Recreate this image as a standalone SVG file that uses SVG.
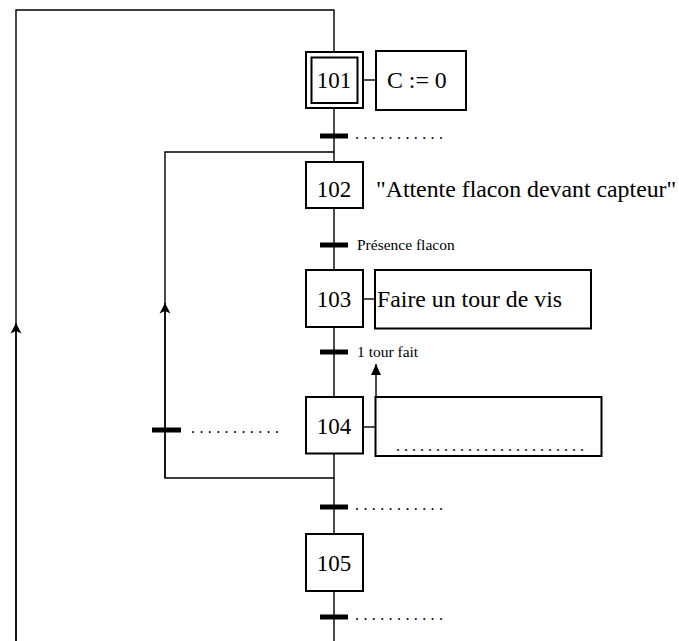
<svg xmlns="http://www.w3.org/2000/svg" width="679" height="641" viewBox="0 0 679 641">
<style>
.ln{fill:none;stroke:#000;stroke-width:1.4}
.bx{fill:#fff;stroke:#000;stroke-width:2}
.bar{stroke:#000;stroke-width:5}
.t{font-family:"Liberation Serif","Times New Roman",serif;fill:#000}
.num{font-size:23px;text-anchor:middle}
.act{font-size:23.8px}
.cond{font-size:15.5px}
.dots{font-size:16px}
</style>
<defs>
<marker id="ah" markerWidth="12" markerHeight="12" refX="11" refY="6" orient="auto" markerUnits="userSpaceOnUse" viewBox="0 0 12 12">
<path d="M11,6 L0.5,0.5 L3,6 L0.5,11.5 Z" fill="#000"/>
</marker>
<marker id="ah2" markerWidth="12" markerHeight="12" refX="11.5" refY="6" orient="auto" markerUnits="userSpaceOnUse" viewBox="0 0 12 12">
<path d="M11.5,6 L0.5,1 L0.5,11 Z" fill="#000"/>
</marker>
</defs>
<g id="connectors">
<polyline class="ln" points="334,641 334,10 16,10 16,641"/>
<line class="ln" x1="16" y1="641" x2="16" y2="323" marker-end="url(#ah)"/>
<polyline class="ln" points="334,152 165,152 165,478 334,478"/>
<line class="ln" x1="165" y1="478" x2="165" y2="303" marker-end="url(#ah)"/>
<line class="ln" x1="363" y1="80" x2="376" y2="80"/>
<line class="ln" x1="363" y1="299" x2="375" y2="299"/>
<line class="ln" x1="363" y1="427" x2="376" y2="427"/>
<line class="ln" x1="376" y1="397" x2="376" y2="364" marker-end="url(#ah2)"/>
</g>
<g id="t1"><line class="bar" x1="320" y1="136" x2="348" y2="136"/><text class="t dots" x="355" y="139" textLength="88" lengthAdjust="spacing">...........</text></g>
<g id="t2"><line class="bar" x1="320" y1="245" x2="348" y2="245"/><text class="t cond" x="357" y="250">Présence flacon</text></g>
<g id="t3"><line class="bar" x1="320" y1="352" x2="348" y2="352"/><text class="t cond" x="357" y="357">1 tour fait</text></g>
<g id="t4"><line class="bar" x1="152" y1="430" x2="181" y2="430"/><text class="t dots" x="191" y="433" textLength="88" lengthAdjust="spacing">...........</text></g>
<g id="t5"><line class="bar" x1="320" y1="507" x2="348" y2="507"/><text class="t dots" x="355" y="510" textLength="88" lengthAdjust="spacing">...........</text></g>
<g id="t6"><line class="bar" x1="320" y1="617" x2="348" y2="617"/><text class="t dots" x="355" y="620" textLength="88" lengthAdjust="spacing">...........</text></g>
<g id="s101">
<rect class="bx" x="306" y="52" width="57" height="56"/>
<rect class="bx" x="311.5" y="57.5" width="46" height="45.5" stroke-width="1.6"/>
<text class="t num" x="334" y="88">101</text>
</g>
<g id="a101"><rect class="bx" x="376" y="51" width="90" height="59"/><text class="t act" x="387" y="88">C := 0</text></g>
<g id="s102"><rect class="bx" x="306" y="162" width="57" height="46"/><text class="t num" x="334" y="197">102</text></g>
<g id="a102"><text class="t act" x="376" y="197">"Attente flacon devant capteur"</text></g>
<g id="s103"><rect class="bx" x="306" y="270" width="57" height="57"/><text class="t num" x="334" y="307">103</text></g>
<g id="a103"><rect class="bx" x="375" y="270" width="216" height="58.5"/><text class="t act" x="377" y="307">Faire un tour de vis</text></g>
<g id="s104"><rect class="bx" x="306" y="397" width="57" height="56.5"/><text class="t num" x="334" y="434">104</text></g>
<g id="a104"><rect class="bx" x="375.5" y="397" width="226" height="59"/><text class="t dots" x="396" y="451" textLength="188" lengthAdjust="spacing">........................</text></g>
<g id="s105"><rect class="bx" x="306" y="534" width="57" height="57"/><text class="t num" x="334" y="571">105</text></g>
</svg>
